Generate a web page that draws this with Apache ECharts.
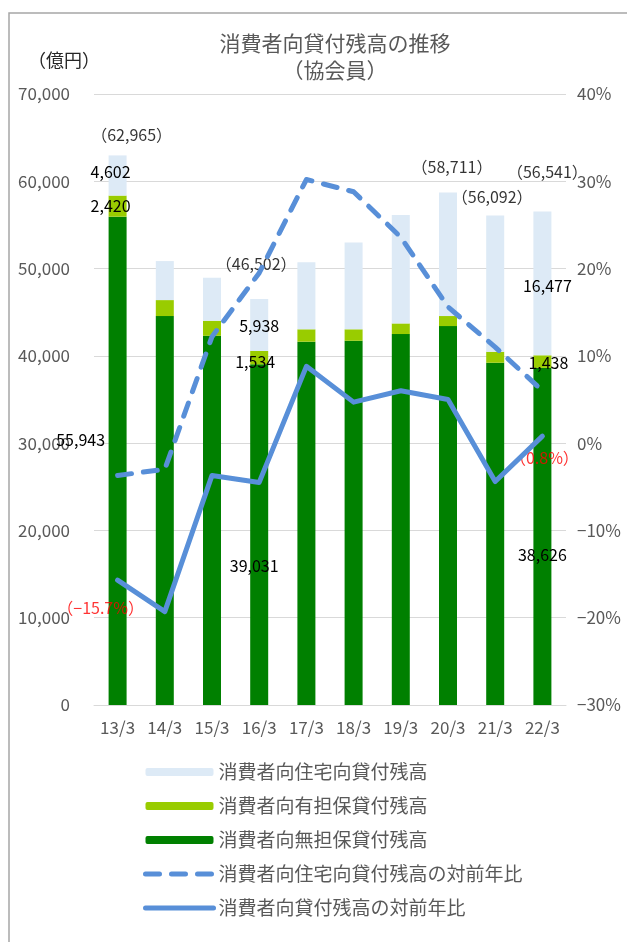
<!DOCTYPE html>
<html>
<head>
    <meta charset="utf-8">
    <title>消費者向貸付残高の推移</title>
    <script src="https://cdn.jsdelivr.net/npm/echarts@6/dist/echarts.min.js"></script>
    <style>
        html, body { margin: 0; padding: 0; background: #fff; }
        #main { width: 627px; height: 942px; }
    </style>
</head>
<body>
<div id="main"></div>
<script>
    // ---- データ（億円 / %） ----
    var categories = ['13/3', '14/3', '15/3', '16/3', '17/3', '18/3', '19/3', '20/3', '21/3', '22/3'];
    var unsecured = [55943, 44560, 42300, 39031, 41620, 41730, 42500, 43410, 39210, 38626];   // 無担保
    var secured = [2420, 1830, 1720, 1534, 1420, 1310, 1220, 1150, 1260, 1438];               // 有担保
    var housing = [4602, 4470, 4930, 5938, 7670, 9960, 12410, 14150, 15620, 16477];           // 住宅向
    var totals = [62965, 50860, 48950, 46502, 50710, 53000, 56130, 58711, 56092, 56541];
    var housingYoY = [-3.7, -3.0, 12.2, 19.5, 30.2, 28.8, 23.6, 15.6, 11.0, 6.0];
    var totalYoY = [-15.7, -19.3, -3.7, -4.5, 8.8, 4.7, 6.0, 5.0, -4.4, 0.8];

    var names = ['消費者向住宅向貸付残高', '消費者向有担保貸付残高', '消費者向無担保貸付残高',
        '消費者向住宅向貸付残高の対前年比', '消費者向貸付残高の対前年比'];

    // ラベルを表示する点と位置のずらし
    var offsets = {
        unsecured: {0: [-37, -21], 3: [-5, 31], 9: [0, 18]},
        secured: {0: [-7, 0], 3: [-4, 4], 9: [6, 1]},
        housing: {0: [-7, -4], 3: [0, 1], 9: [5, 3]},
        totals: {0: [14, -20], 3: [-3, -35], 7: [4, -26], 8: [-3, -18], 9: [5, -40]},
        totalYoY: {0: [-17, 28], 9: [2, 22]}
    };

    var font = '"Noto Sans CJK JP", "Noto Sans", sans-serif';
    var lineColor = '#588fd8';
    var dash = [14, 12];

    function fmtNum(v) {
        return String(v).replace(/\B(?=(\d{3})+(?!\d))/g, ',');
    }

    function withLabels(values, offs, fmt, color) {
        return values.map(function (v, i) {
            var item = {value: v};
            if (offs[i]) {
                item.label = {
                    show: true,
                    position: 'inside',
                    offset: offs[i],
                    formatter: fmt(v),
                    color: color || '#000',
                    fontSize: 16,
                    fontFamily: font
                };
            }
            return item;
        });
    }

    var chart = echarts.init(document.getElementById('main'));

    var option = {
        backgroundColor: '#fff',
        animation: false,
        textStyle: {fontFamily: font},
        title: {
            text: '消費者向貸付残高の推移\n（協会員）',
            left: 330,
            top: 25,
            textAlign: 'center',
            textStyle: {fontSize: 21, fontWeight: 'normal', color: '#595959', lineHeight: 27, fontFamily: font}
        },
        graphic: [
            {
                type: 'rect',
                shape: {x: 9, y: 13, width: 700, height: 1000},
                style: {fill: 'none', stroke: '#a6a6a6', lineWidth: 1.5},
                silent: true
            },
            {
                type: 'text',
                left: 28,
                top: 51,
                style: {text: '（億円）', fill: '#262626', font: '18px ' + font}
            }
        ],
        legend: {
            data: [
                {name: names[0]},
                {name: names[1]},
                {name: names[2]},
                {name: names[3], itemStyle: {opacity: 0}, lineStyle: {width: 5, type: dash, cap: 'round', color: lineColor}},
                {name: names[4], itemStyle: {opacity: 0}, lineStyle: {width: 5, cap: 'round', color: lineColor}}
            ],
            orient: 'vertical',
            left: 143,
            top: 762,
            padding: 0,
            itemWidth: 68,
            itemHeight: 8,
            itemGap: 14,
            textStyle: {fontSize: 19, color: '#595959', lineHeight: 20, fontFamily: font}
        },
        grid: {left: 94, right: 61, top: 94, bottom: 237},
        xAxis: {
            type: 'category',
            data: categories,
            axisTick: {show: false},
            axisLine: {lineStyle: {color: '#d9d9d9'}},
            axisLabel: {color: '#595959', fontSize: 17, margin: 14, interval: 0}
        },
        yAxis: [
            {
                type: 'value',
                min: 0,
                max: 70000,
                interval: 10000,
                axisLabel: {
                    color: '#595959', fontSize: 17, margin: 24,
                    formatter: function (v) { return fmtNum(v); }
                },
                splitLine: {lineStyle: {color: '#d9d9d9'}}
            },
            {
                type: 'value',
                min: -30,
                max: 40,
                interval: 10,
                axisLabel: {color: '#595959', fontSize: 17, margin: 11, formatter: function (v) { return (v < 0 ? '−' + (-v) : v) + '%'; }},
                splitLine: {show: false}
            }
        ],
        series: [
            {
                name: names[2],
                type: 'bar',
                stack: 'total',
                barWidth: 18,
                itemStyle: {color: '#008000'},
                data: withLabels(unsecured, offsets.unsecured, fmtNum)
            },
            {
                name: names[1],
                type: 'bar',
                stack: 'total',
                barWidth: 18,
                itemStyle: {color: '#99cc00'},
                data: withLabels(secured, offsets.secured, fmtNum)
            },
            {
                name: names[0],
                type: 'bar',
                stack: 'total',
                barWidth: 18,
                itemStyle: {color: '#ddeaf6'},
                data: withLabels(housing, offsets.housing, fmtNum)
            },
            {
                name: names[3],
                type: 'line',
                yAxisIndex: 1,
                symbol: 'none',
                itemStyle: {color: lineColor},
                lineStyle: {color: lineColor, width: 5, type: dash, cap: 'round', join: 'round'},
                data: housingYoY
            },
            {
                name: names[4],
                type: 'line',
                yAxisIndex: 1,
                symbol: 'none',
                itemStyle: {color: lineColor},
                lineStyle: {color: lineColor, width: 5, cap: 'round', join: 'round'},
                data: totalYoY
            },
            {
                name: 'totals',
                type: 'scatter',
                symbolSize: 0,
                silent: true,
                data: withLabels(totals, offsets.totals, function (v) { return '（' + fmtNum(v) + '）'; })
            },
            {
                name: 'yoyLabels',
                type: 'scatter',
                yAxisIndex: 1,
                symbolSize: 0,
                silent: true,
                data: withLabels(totalYoY, offsets.totalYoY, function (v) {
                    return '（' + (v < 0 ? '−' + (-v) : v) + '%）';
                }, '#ff0000')
            }
        ]
    };

    chart.setOption(option);
</script>
</body>
</html>
